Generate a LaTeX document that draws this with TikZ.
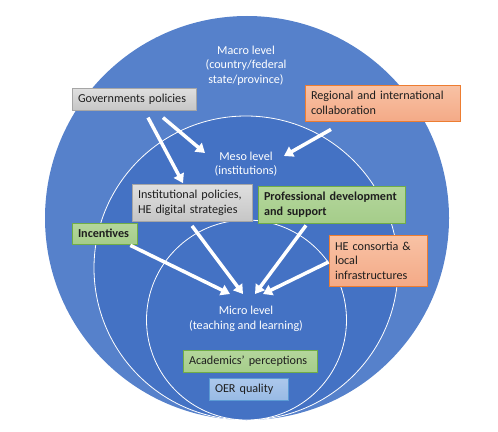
\documentclass[tikz,border=0pt]{standalone}
\usepackage{fontspec}
\setmainfont{Carlito}
\usetikzlibrary{arrows.meta,positioning,calc}
\definecolor{outerC}{RGB}{86,129,203}
\definecolor{innerC}{RGB}{68,114,196}
\definecolor{ink}{RGB}{30,30,30}
\definecolor{grayE}{RGB}{166,166,166}
\definecolor{orgE}{RGB}{237,125,49}
\definecolor{grnE}{RGB}{112,173,71}
\definecolor{bluE}{RGB}{91,155,213}
\tikzset{
  lvl/.style={text=white,align=center,font=\fontsize{12.2}{14.5}\selectfont},
  box/.style={draw,line width=0.8bp,inner sep=6bp,align=left,text=ink,
    font=\fontsize{12.2}{14.5}\selectfont},
  gbox/.style={box,draw=grayE,top color=gray!25,bottom color=gray!45},
  obox/.style={box,draw=orgE,top color={rgb,255:red,248;green,194;blue,165},
    bottom color={rgb,255:red,244;green,170;blue,135}},
  grbox/.style={box,draw=grnE,top color={rgb,255:red,180;green,214;blue,156},
    bottom color={rgb,255:red,165;green,205;blue,138}},
  bbox/.style={box,draw=bluE,top color={rgb,255:red,172;green,200;blue,236},
    bottom color={rgb,255:red,152;green,186;blue,228}},
  arr/.style={-{Triangle[length=9bp,width=11bp]},line width=3.5bp,white},
}
\begin{document}
\begin{tikzpicture}[x=1bp,y=1bp]
  \useasboundingbox (0,0) rectangle (498,431);
  % the three levels
  \fill[outerC] (247,213) circle[radius=202];
  \draw[white,fill=innerC,line width=0.8bp] (246,163) circle[radius=152];
  \draw[white,fill=innerC,line width=0.8bp] (246.5,111) circle[radius=100];
  \node[lvl] (macro) at (246,365.5) {Macro level\\(country/federal\\state/province)};
  \node[lvl] (meso) at (246,267) {Meso level\\(institutions)};
  \node[lvl] (micro) at (246,112) {Micro level\\(teaching and learning)};
  % factors
  \node[gbox,minimum width=124bp,minimum height=21bp,text width=112bp] (gov) at (134,331.5) {Governments policies};
  \node[obox,minimum width=155bp,minimum height=36bp,text width=143bp] (reg) at (382.5,328) {Regional and international\\collaboration};
  \node[gbox,minimum width=120bp,minimum height=36bp,text width=108bp] (inst) at (192,228) {Institutional policies,\\HE digital strategies};
  \node[grbox,minimum width=147bp,minimum height=37bp,text width=135bp,font=\fontsize{12.2}{14.5}\selectfont\bfseries] (prof) at (331.5,226.5) {Professional development\\and support};
  \node[grbox,minimum width=65bp,minimum height=21bp,text width=53bp,font=\fontsize{12.2}{14.5}\selectfont\bfseries] (inc) at (104.5,197.5) {Incentives};
  \node[obox,minimum width=98bp,minimum height=51bp,text width=86bp] (hec) at (378,170.5) {HE consortia \&\\local\\infrastructures};
  \node[grbox,minimum width=134bp,minimum height=21bp,text width=122bp] (acad) at (250,69.5) {Academics’ perceptions};
  \node[bbox,minimum width=79bp,minimum height=21bp,text width=67bp] (oer) at (248.5,41.5) {OER quality};
  % influences
  \draw[arr] ($(gov.south)+(14,-6.5)$) -- ($(inst.north)+(-9,1)$);
  \draw[arr] ($(gov.south)+(29,-6.5)$) -- ($(meso.center)+(-41,11)$);
  \draw[arr] ($(reg.south)+(-51.5,-8)$) -- ($(meso.center)+(38,8)$);
  \draw[arr] ($(inc.south east)+(-7,-1)$) -- ($(micro.center)+(-16,25)$);
  \draw[arr] ($(inst.south)+(0,-4)$) -- ($(micro.center)+(-3,25)$);
  \draw[arr] ($(prof.south)+(-25.5,-2)$) -- ($(micro.center)+(9,25)$);
  \draw[arr] ($(hec.west)+(0,-1.5)$) -- ($(micro.center)+(17,25)$);
\end{tikzpicture}
\end{document}
